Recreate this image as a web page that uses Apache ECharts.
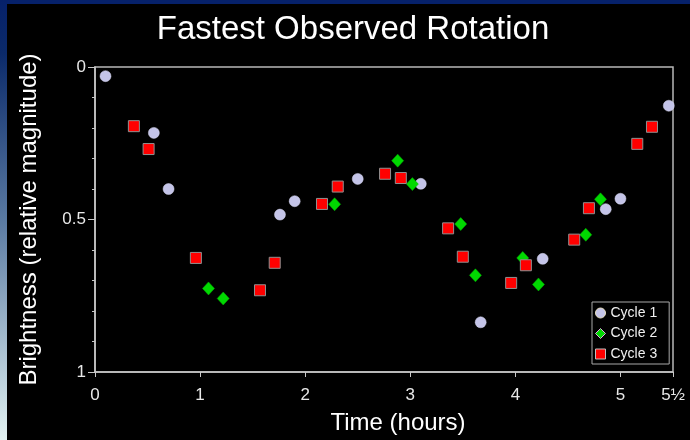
<!DOCTYPE html>
<html><head><meta charset="utf-8">
<script src="https://cdn.jsdelivr.net/npm/echarts@6/dist/echarts.min.js"></script>
<style>html,body{margin:0;padding:0;background:#000}#c{width:690px;height:440px}</style>
</head><body><div id="c"></div>
<script>
const xTickLabels = {0:'0',1:'1',2:'2',3:'3',4:'4',5:'5',5.5:'5½'};
const yTickLabels = {0:'0',0.5:'0.5',1:'1'};
const cycle1 = [[0.10,0.03],[0.56,0.216],[0.70,0.40],[1.76,0.484],[1.90,0.44],[2.50,0.367],[3.10,0.383],[3.67,0.837],[4.26,0.629],[4.86,0.466],[5.00,0.432],[5.46,0.127]];
const cycle2 = [[1.08,0.726],[1.22,0.759],[2.28,0.45],[2.88,0.307],[3.02,0.384],[3.48,0.515],[3.62,0.683],[4.07,0.626],[4.22,0.713],[4.67,0.550],[4.81,0.434]];
const cycle3 = [[0.37,0.194],[0.51,0.269],[0.96,0.626],[1.57,0.732],[1.71,0.642],[2.16,0.449],[2.31,0.392],[2.76,0.350],[2.91,0.364],[3.36,0.529],[3.50,0.622],[3.96,0.708],[4.10,0.650],[4.56,0.566],[4.70,0.463],[5.16,0.252],[5.30,0.196]];
const FONT = '"Liberation Sans", Arial, sans-serif';
const chart = echarts.init(document.getElementById('c'));
chart.setOption({
  backgroundColor: '#000',
  animation: false,
  graphic: [
    {type:'rect', shape:{x:0,y:0,width:690,height:4}, style:{fill:'#06216a'}, silent:true},
    {type:'rect', shape:{x:0,y:0,width:7,height:440}, silent:true,
     style:{fill:{type:'linear',x:0,y:0,x2:0,y2:1,colorStops:[{offset:0,color:'#06216a'},{offset:0.12,color:'#0b2a6a'},{offset:0.5,color:'#5a7aa2'},{offset:1,color:'#e2f2f2'}]}}}
  ],
  title: {
    text: 'Fastest Observed Rotation', left: 353, top: 13, textAlign: 'center', padding: 0,
    textStyle: {color:'#fff', fontSize: 33, fontWeight: 'normal', fontFamily: FONT}
  },
  grid: {left: 95, right: 17, top: 67, bottom: 66, show: true, borderColor: '#b8b8b8', borderWidth: 1.5, backgroundColor: '#000'},
  legend: {
    orient: 'vertical', left: 592, top: 302, padding: [4,12,3,3], itemGap: 6.5,
    itemWidth: 10, itemHeight: 10, itemTextGap: 4,
    backgroundColor: '#000', borderColor: '#a8a8a8', borderWidth: 1,
    textStyle: {color:'#f0f0f0', fontSize: 14, fontFamily: FONT},
    data: [
      {name:'Cycle 1', icon:'circle', itemStyle:{color:'#c4c4e8', borderColor:'#e8e0c0', borderWidth:1}},
      {name:'Cycle 2', icon:'diamond', itemStyle:{color:'#00d800', borderColor:'#e0a8e0', borderWidth:1}},
      {name:'Cycle 3', icon:'rect', itemStyle:{color:'#ff0000', borderColor:'#c0c0c0', borderWidth:1}}
    ]
  },
  xAxis: {
    type: 'value', min: 0, max: 5.5, interval: 1,
    name: 'Time (hours)', nameLocation: 'middle', nameGap: 39,
    nameTextStyle: {color:'#fff', fontSize: 24, fontFamily: FONT, padding:[0,0,0,28]},
    axisLine: {onZero: false, lineStyle:{color:'#c8c8c8', width:1.5}},
    axisTick: {show:true, length:5, lineStyle:{color:'#c8c8c8'}},
    axisLabel: {color:'#e8e8e8', fontSize: 17, fontFamily: FONT, margin: 15,
      formatter: v => xTickLabels[v] !== undefined ? xTickLabels[v] : ''},
    splitLine: {show:false}
  },
  yAxis: {
    type: 'value', min: 0, max: 1, interval: 0.5, inverse: true,
    name: 'Brightness (relative magnitude)', nameLocation: 'middle', nameGap: 54, nameRotate: 90,
    nameTextStyle: {color:'#fff', fontSize: 24, fontFamily: FONT, padding:[0,0,0,0]},
    axisLine: {show:true, onZero: false, lineStyle:{color:'#c8c8c8', width:1.5}},
    axisTick: {show:true, length:7, lineStyle:{color:'#c8c8c8'}},
    minorTick: {show:true, splitNumber:5, length:3, lineStyle:{color:'#c8c8c8'}},
    axisLabel: {color:'#e8e8e8', fontSize: 17, fontFamily: FONT, margin: 9,
      formatter: v => yTickLabels[v] !== undefined ? yTickLabels[v] : ''},
    splitLine: {show:false}, minorSplitLine: {show:false}
  },
  series: [
    {name:'Cycle 1', type:'scatter', data: cycle1, symbol:'circle', symbolSize: 11,
     itemStyle:{color:'#c4c4e8', borderColor:'#d8d8f0', borderWidth:0.5, opacity:1}},
    {name:'Cycle 2', type:'scatter', data: cycle2, symbol:'diamond', symbolSize: [12,13],
     itemStyle:{color:'#00d800', borderColor:'#00b000', borderWidth:0.5, opacity:1}},
    {name:'Cycle 3', type:'scatter', data: cycle3, symbol:'rect', symbolSize: 11,
     itemStyle:{color:'#ff0000', borderColor:'#909090', borderWidth:1, opacity:1}}
  ]
});
</script></body></html>
